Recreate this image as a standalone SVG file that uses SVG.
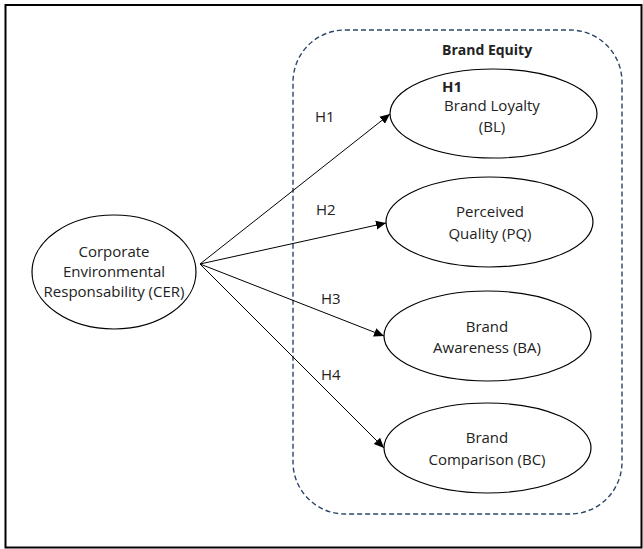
<svg xmlns="http://www.w3.org/2000/svg" width="643" height="549" viewBox="0 0 643 549">
<style>
.t{font-family:"Open Sans","Liberation Sans",sans-serif;font-size:15px;fill:#222;text-anchor:middle}
.l{font-family:"Open Sans","Liberation Sans",sans-serif;font-size:15px;fill:#222}
.b{font-family:"Open Sans","Liberation Sans",sans-serif;font-size:14px;font-weight:bold;fill:#222}
.e{fill:#fff;stroke:#000;stroke-width:1.2}
.c{stroke:#000;stroke-width:1;fill:none;marker-end:url(#ah)}
</style>
<defs>
<marker id="ah" viewBox="0 0 10 10" refX="10" refY="5" markerWidth="10" markerHeight="10" markerUnits="userSpaceOnUse" orient="auto">
<path d="M0,0.5 L10,5 L0,9.5 z" fill="#000"/>
</marker>
</defs>
<rect width="643" height="549" fill="#fff"/>
<rect x="5.5" y="5" width="636" height="542.5" fill="none" stroke="#000" stroke-width="2"/>
<g id="brand-equity">
<rect x="293" y="30" width="329" height="484" rx="52" ry="52" fill="none" stroke="#2d4568" stroke-width="1.4" stroke-dasharray="5,3"/>
<text class="b" x="442" y="55">Brand Equity</text>
</g>
<g id="connectors">
<line class="c" x1="200" y1="264" x2="390" y2="114"/>
<line class="c" x1="200" y1="264" x2="386" y2="223"/>
<line class="c" x1="200" y1="264" x2="384" y2="336"/>
<line class="c" x1="200" y1="264" x2="384" y2="448"/>
<text class="l" x="315" y="122">H1</text>
<text class="l" x="316" y="215">H2</text>
<text class="l" x="321" y="304">H3</text>
<text class="l" x="321" y="380">H4</text>
</g>
<g id="cer">
<ellipse class="e" cx="114" cy="272" rx="82" ry="57"/>
<text class="t" x="114" y="257">Corporate</text>
<text class="t" x="114" y="277">Environmental</text>
<text class="t" x="114" y="297">Responsability (CER)</text>
</g>
<g id="bl">
<ellipse class="e" cx="493.5" cy="113.5" rx="103.5" ry="44.5"/>
<text class="b" x="442" y="92" style="font-size:15px">H1</text>
<text class="t" x="492" y="111">Brand Loyalty</text>
<text class="t" x="492" y="132">(BL)</text>
</g>
<g id="pq">
<ellipse class="e" cx="489.5" cy="222" rx="103.5" ry="45"/>
<text class="t" x="490" y="217">Perceived</text>
<text class="t" x="490" y="239">Quality (PQ)</text>
</g>
<g id="ba">
<ellipse class="e" cx="487.5" cy="336" rx="103.5" ry="45"/>
<text class="t" x="487" y="332">Brand</text>
<text class="t" x="487" y="353">Awareness (BA)</text>
</g>
<g id="bc">
<ellipse class="e" cx="487.5" cy="448" rx="103.5" ry="45"/>
<text class="t" x="487" y="443">Brand</text>
<text class="t" x="487" y="465">Comparison (BC)</text>
</g>
</svg>
